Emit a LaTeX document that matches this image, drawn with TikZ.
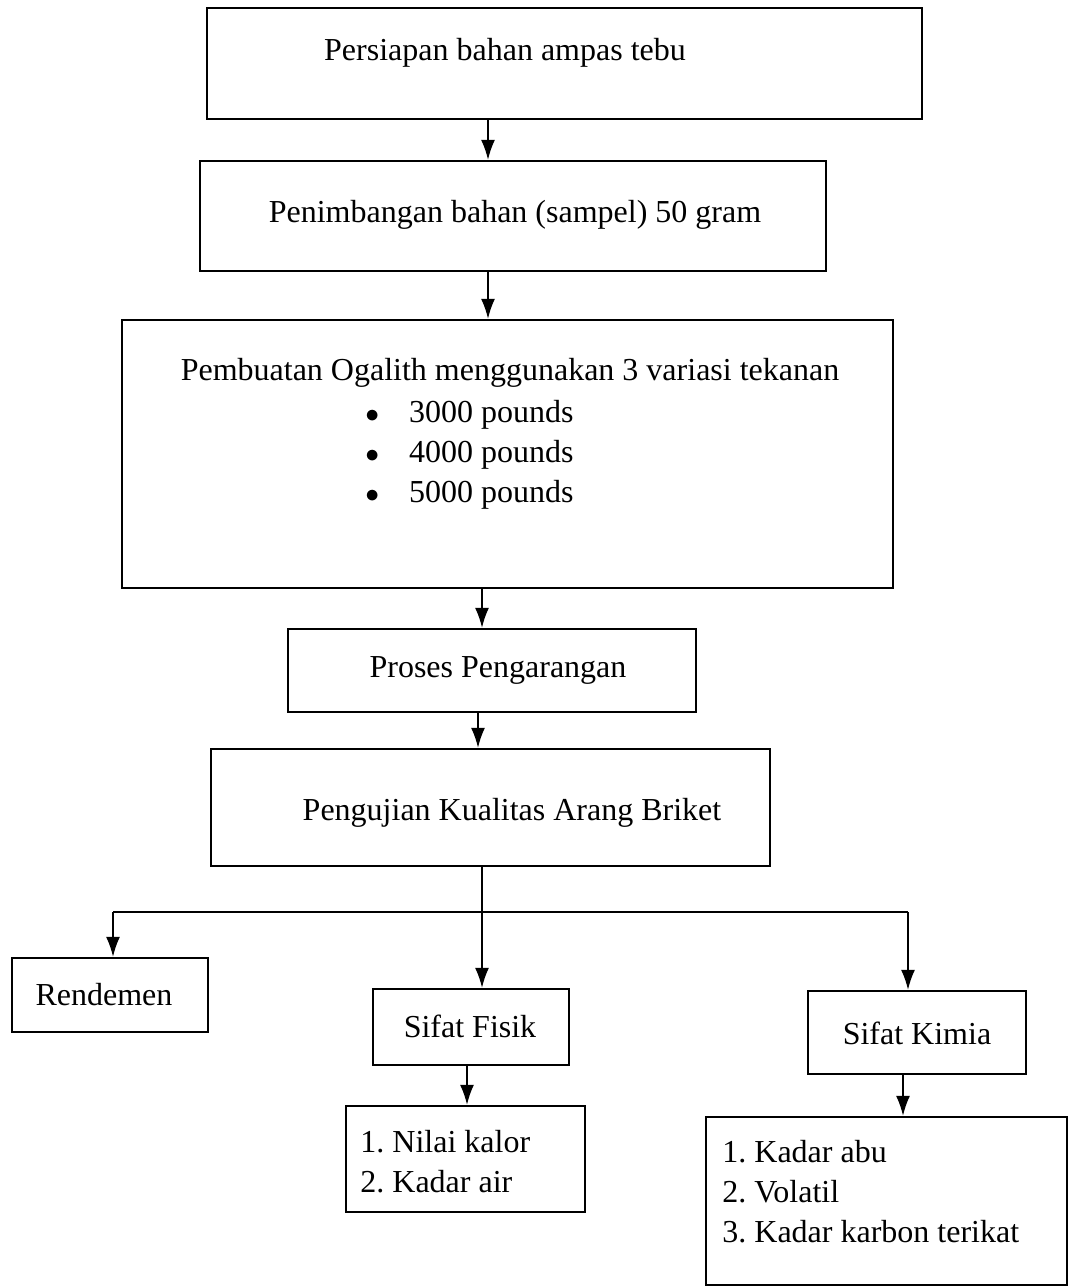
\documentclass[tikz,border=0pt]{standalone}
\usepackage{fontspec}
\setmainfont{Liberation Serif}
\usetikzlibrary{arrows.meta,fit}
\frenchspacing

\tikzset{
  kotak/.style={draw, line width=1.2pt, inner sep=0pt},
  teks/.style={font=\fontsize{16}{20}\selectfont, inner sep=0pt},
  panah/.style={-{Latex[length=10pt,width=7pt]}, line width=0.8pt},
}

\begin{document}
\begin{tikzpicture}[x=0.5pt, y=-0.5pt]
  \useasboundingbox (0,0) rectangle (1070,1287);

  % Kotak utama
  \node[kotak, fit={(207,8) (922,119)}] (b1) {};
  \node[kotak, fit={(200,161) (826,271)}] (b2) {};
  \node[kotak, fit={(122,320) (893,588)}] (b3) {};
  \node[kotak, fit={(288,629) (696,712)}] (b4) {};
  \node[kotak, fit={(211,749) (770,866)}] (b5) {};

  % Kotak bawah
  \node[kotak, fit={(12,958) (208,1032)}] (rend) {};
  \node[kotak, fit={(373,989) (569,1065)}] (fisik) {};
  \node[kotak, fit={(808,991) (1026,1074)}] (kimia) {};
  \node[kotak, fit={(346,1106) (585,1212)}] (kalor) {};
  \node[kotak, fit={(706,1117) (1067,1285)}] (abu) {};

  % Teks
  \node[teks, anchor=base] (t1) at (505,60) {Persiapan bahan ampas tebu};
  \node[teks, anchor=base] (t2) at (515,222) {Penimbangan bahan (sampel) 50 gram};
  \node[teks, anchor=base] (t3) at (510,380) {Pembuatan Ogalith menggunakan 3 variasi tekanan};
  \node[teks, anchor=base west] (p1) at (365,422) {\scalebox{0.8}{$\bullet$}\hspace{15pt}3000 pounds};
  \node[teks, anchor=base west] (p2) at (365,462) {\scalebox{0.8}{$\bullet$}\hspace{15pt}4000 pounds};
  \node[teks, anchor=base west] (p3) at (365,502) {\scalebox{0.8}{$\bullet$}\hspace{15pt}5000 pounds};
  \node[teks, anchor=base] (t4) at (498,677) {Proses Pengarangan};
  \node[teks, anchor=base] (t5) at (512,820) {Pengujian Kualitas Arang Briket};
  \node[teks, anchor=base] (t6) at (104,1005) {Rendemen};
  \node[teks, anchor=base] (t7) at (470,1037) {Sifat Fisik};
  \node[teks, anchor=base] (t8) at (917,1044) {Sifat Kimia};
  \node[teks, anchor=base west] (k1) at (360,1152) {1. Nilai kalor};
  \node[teks, anchor=base west] (k2) at (360,1192) {2. Kadar air};
  \node[teks, anchor=base west] (m1) at (722,1162) {1. Kadar abu};
  \node[teks, anchor=base west] (m2) at (722,1202) {2. Volatil};
  \node[teks, anchor=base west] (m3) at (722,1242) {3. Kadar karbon terikat};

  % Titik bantu panah
  \coordinate (x1) at (488,0);
  \coordinate (x3) at (482,0);
  \coordinate (x4) at (478,0);
  \coordinate (cab) at (482,912);
  \coordinate (kiri) at (113,912);
  \coordinate (kanan) at (908,912);
  \coordinate (xf) at (467,0);
  \coordinate (xk) at (903,0);

  % Panah alur
  \draw[panah] (b1.south -| x1) -- (b2.north -| x1);
  \draw[panah] (b2.south -| x1) -- (b3.north -| x1);
  \draw[panah] (b3.south -| x3) -- (b4.north -| x3);
  \draw[panah] (b4.south -| x4) -- (b5.north -| x4);

  % Percabangan
  \draw[line width=1.2pt] (kiri) -- (kanan);
  \draw[panah] (b5.south -| cab) -- (fisik.north -| cab);
  \draw[panah] (kiri) -- (rend.north -| kiri);
  \draw[panah] (kanan) -- (kimia.north -| kanan);
  \draw[panah] (fisik.south -| xf) -- (kalor.north -| xf);
  \draw[panah] (kimia.south -| xk) -- (abu.north -| xk);
\end{tikzpicture}
\end{document}
